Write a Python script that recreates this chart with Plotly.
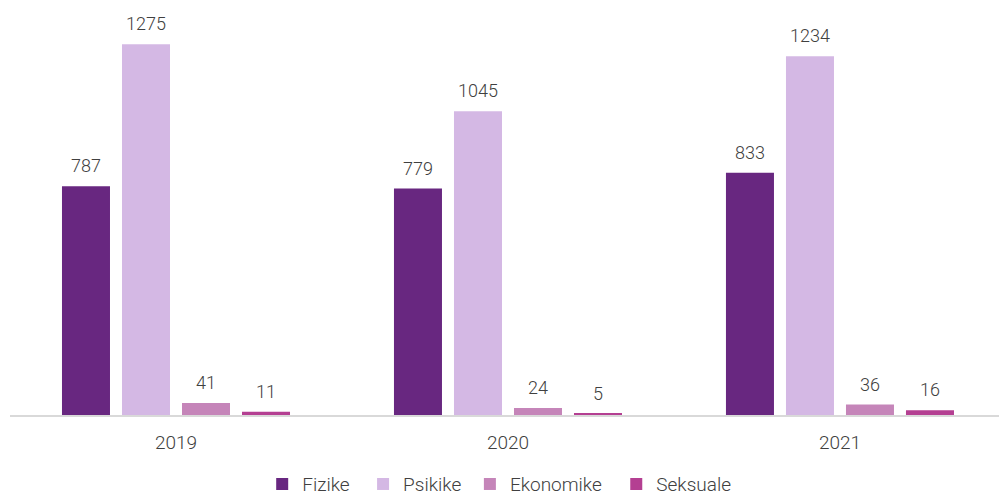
import plotly.graph_objects as go

years = ["2019", "2020", "2021"]
series_names = ["Fizike", "Psikike", "Ekonomike", "Seksuale"]
fizike = [787, 779, 833]
psikike = [1275, 1045, 1234]
ekonomike = [41, 24, 36]
seksuale = [11, 5, 16]
colors = ["#682780", "#d4b8e4", "#c585b9", "#b43f92"]

series_values = [fizike, psikike, ekonomike, seksuale]

# horizontal start of each legend entry (paper fraction) and its text width
legend_x = [0.255, 0.357, 0.465, 0.613]
legend_w = [52, 62, 98, 80]

BARGAP = 0.277
GROUPGAP = 0.2
FONT = "Roboto"
TEXT_COLOR = "#404040"
FSIZE = 18
LSIZE = 19

fig = go.Figure()
legend_ids = ["legend", "legend2", "legend3", "legend4"]
for name, vals, col, lid in zip(series_names, series_values, colors, legend_ids):
    fig.add_trace(go.Bar(name=name, x=list(range(len(years))), y=vals,
                         marker=dict(color=col, line=dict(width=0)),
                         legend=lid))

# value labels above each bar
slot = (1 - BARGAP) / len(series_names)
for k, vals in enumerate(series_values):
    off = (k - (len(series_names) - 1) / 2) * slot
    for i, v in enumerate(vals):
        fig.add_annotation(x=i + off, y=v, text=str(v), showarrow=False,
                           yanchor="bottom", yshift=8,
                           font=dict(family=FONT, size=FSIZE, color=TEXT_COLOR, weight=300))

legend_style = dict(orientation="h", xanchor="left",
                    yref="container", y=0.02, yanchor="middle",
                    bgcolor="rgba(0,0,0,0)", entrywidthmode="pixels",
                    font=dict(family=FONT, size=LSIZE, color=TEXT_COLOR, weight=300),
                    itemclick=False)

fig.update_layout(
    width=999, height=494,
    margin=dict(l=10, r=0, t=8, b=79),
    barmode="group", bargap=BARGAP, bargroupgap=GROUPGAP,
    plot_bgcolor="white", paper_bgcolor="white",
    font=dict(family=FONT, size=FSIZE, color=TEXT_COLOR, weight=300),
    showlegend=True,
    xaxis=dict(tickmode="array", tickvals=list(range(len(years))), ticktext=years,
               range=[-0.5, 2.479], showgrid=False, zeroline=False,
               showline=True, linecolor="#d9d9d9", linewidth=1.5,
               ticks="", ticklabelstandoff=9,
               tickfont=dict(family=FONT, size=LSIZE, color=TEXT_COLOR, weight=300)),
    yaxis=dict(range=[0, 1400], visible=False, showgrid=False, zeroline=False),
)
for lid, lx, lw in zip(legend_ids, legend_x, legend_w):
    fig.update_layout({lid: dict(x=lx, entrywidth=lw, **legend_style)})

fig.write_html("out.html")
